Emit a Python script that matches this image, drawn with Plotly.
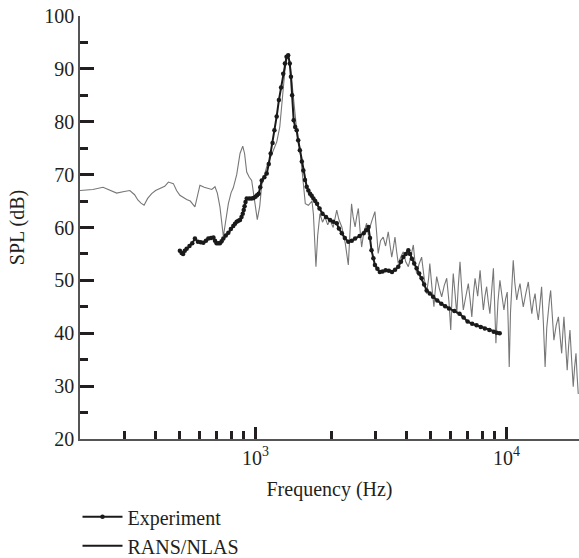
import plotly.graph_objects as go

# ---- RANS/NLAS computed spectrum (Hz, dB) ----
rans_freq = [
    200, 225, 247, 265, 280, 300, 316, 330, 340, 350,
    360, 372, 386, 400, 417, 435, 450, 471, 485, 500,
    532, 550, 574, 588, 601, 625, 649, 670, 690, 705,
    722, 735, 745, 760, 780, 800, 816, 842, 868, 890,
    905, 923, 945, 966, 996, 1017, 1040, 1059, 1109, 1161,
    1216, 1250, 1273, 1312, 1340, 1352, 1370, 1393, 1439, 1470,
    1503, 1530, 1552, 1580, 1625, 1680, 1702, 1742, 1770, 1807,
    1850, 1892, 1940, 1982, 2040, 2108, 2150, 2208, 2280, 2344,
    2380, 2415, 2450, 2495, 2530, 2570, 2610, 2649, 2700, 2773,
    2820, 2858, 2920, 2992, 3040, 3083, 3150, 3228, 3300, 3381,
    3440, 3491, 3540, 3597, 3650, 3707, 3800, 3882, 3970, 4065,
    4160, 4256, 4320, 4385, 4480, 4592, 4700, 4808, 4900, 4950,
    5040, 5140, 5200, 5272, 5400, 5521, 5650, 5781, 5900, 5998,
    6070, 6138, 6240, 6339, 6430, 6531, 6630, 6730, 6890, 7047,
    7160, 7278, 7390, 7499, 7680, 7852, 7970, 8091, 8210, 8337,
    8460, 8590, 8730, 8872, 8980, 9078, 9250, 9419, 9600, 9772,
    9920, 10069, 10160, 10257, 10380, 10495, 10570, 10641, 10800, 10990,
    11150, 11324, 11500, 11668, 11940, 12218, 12420, 12618, 12800, 13002,
    13200, 13397, 13600, 13804, 14030, 14256, 14470, 14689, 14850, 15000,
    15220, 15453, 15780, 16106, 16350, 16596, 16770, 16943, 17200, 17458,
    17680, 17906, 18180, 18450, 18680, 18923, 19120, 19320,
]
rans_spl = [
    67.0, 67.2, 67.6, 67.0, 66.5, 66.8, 67.0, 66.2, 65.2, 64.6,
    64.2, 65.5, 66.4, 67.0, 67.4, 67.8, 68.6, 68.3, 67.0, 66.1,
    65.3, 65.0, 63.9, 66.0, 68.0, 67.6, 67.4, 67.2, 67.7, 66.5,
    63.9, 60.0, 58.3, 61.0, 64.5, 66.6, 67.5, 70.0, 74.0, 75.4,
    74.0, 70.5, 69.5, 68.9, 64.5, 61.5, 64.0, 68.0, 71.5, 74.0,
    76.2, 79.0, 83.4, 90.0, 92.3, 92.6, 91.5, 88.0, 80.5, 77.0,
    75.0, 71.5, 68.5, 64.5, 64.2, 65.0, 62.5, 52.6, 58.5, 62.6,
    61.0, 62.0, 60.5, 61.4, 60.0, 63.3, 61.5, 60.1, 57.0, 52.9,
    59.0, 64.5, 62.0, 60.1, 62.0, 63.6, 59.5, 56.3, 59.0, 60.8,
    58.5, 60.1, 61.5, 63.0, 59.0, 55.1, 57.5, 58.2, 56.5, 59.2,
    56.5, 54.4, 56.0, 58.2, 55.5, 53.2, 54.5, 55.4, 53.5, 52.6,
    54.5, 56.7, 53.5, 51.3, 53.0, 54.4, 50.5, 47.5, 50.5, 53.2,
    49.0, 45.0, 48.0, 50.7, 48.5, 46.9, 49.0, 50.4, 46.0, 40.6,
    47.0, 51.3, 47.5, 43.7, 49.0, 53.5, 48.5, 44.4, 47.0, 49.4,
    46.5, 43.1, 47.5, 50.4, 47.0, 51.9, 48.0, 44.4, 47.0, 48.8,
    46.0, 43.7, 48.0, 52.3, 45.0, 38.1, 46.0, 50.0, 47.0, 44.4,
    46.5, 47.8, 42.0, 33.6, 44.0, 48.8, 51.5, 53.8, 49.5, 46.3,
    48.0, 49.4, 47.0, 45.0, 47.5, 49.7, 46.5, 43.7, 46.0, 47.5,
    44.5, 42.5, 45.5, 48.8, 42.0, 33.6, 41.0, 45.0, 46.5, 48.1,
    43.0, 38.7, 41.5, 43.1, 39.5, 36.2, 40.0, 43.1, 38.0, 33.0,
    37.5, 40.6, 35.0, 29.9, 33.5, 36.2, 32.0, 28.5,
]

# ---- Measured spectrum (Hz, dB) ----
exp_freq = [
    500, 508, 515, 523, 532, 546, 560, 574, 590, 605,
    620, 635, 649, 665, 680, 690, 700, 711, 722, 733,
    745, 762, 780, 798, 816, 829, 842, 855, 868, 880,
    890, 898, 905, 913, 923, 945, 966, 983, 1000, 1015,
    1030, 1045, 1059, 1085, 1109, 1130, 1150, 1170, 1190, 1215,
    1240, 1265, 1290, 1310, 1330, 1350, 1370, 1385, 1400, 1420,
    1440, 1460, 1480, 1503, 1530, 1552, 1575, 1600, 1625, 1650,
    1675, 1702, 1730, 1760, 1800, 1850, 1910, 1982, 2040, 2108,
    2150, 2208, 2270, 2344, 2420, 2495, 2600, 2700, 2760, 2820,
    2860, 2900, 2950, 2992, 3060, 3130, 3210, 3300, 3400, 3500,
    3600, 3707, 3800, 3882, 3970, 4065, 4130, 4200, 4290, 4385,
    4490, 4592, 4700, 4808, 4950, 5100, 5300, 5500, 5700, 5900,
    6200, 6500, 6750, 7000, 7300, 7600, 7900, 8200, 8550, 8900,
    9150, 9400,
]
exp_spl = [
    55.6, 55.2, 55.0, 55.6, 56.0, 56.5, 57.0, 57.9, 57.3, 57.2,
    57.1, 57.5, 57.9, 58.0, 58.1, 57.5, 57.0, 57.0, 57.0, 57.4,
    57.9, 58.5, 59.0, 59.7, 60.3, 60.7, 61.1, 61.3, 61.4, 62.0,
    62.6, 63.3, 64.0, 64.8, 65.5, 65.5, 65.5, 65.6, 65.8, 66.1,
    66.4, 67.6, 68.9, 69.5, 70.2, 72.0, 74.0, 76.0, 78.4, 81.0,
    84.1, 86.5, 89.1, 91.0, 92.3, 92.6, 91.0, 88.5, 85.0, 80.3,
    79.0, 78.4, 76.5, 74.6, 72.5, 70.8, 69.0, 67.7, 67.0, 66.4,
    66.0, 65.5, 65.0, 64.5, 63.6, 62.6, 62.0, 61.4, 61.1, 60.8,
    59.8, 58.9, 58.0, 57.3, 57.5, 57.9, 58.4, 58.9, 59.5, 60.1,
    58.0, 55.7, 54.2, 52.9, 52.2, 51.6, 51.7, 51.9, 51.8, 51.6,
    52.0, 52.6, 53.5, 54.4, 55.0, 55.7, 55.0, 54.1, 53.2, 52.3,
    51.3, 50.4, 49.2, 48.1, 47.5, 46.9, 46.2, 45.6, 45.1, 44.7,
    44.2, 43.7, 43.0, 42.2, 41.8, 41.5, 41.2, 40.9, 40.6, 40.3,
    40.1, 40.0,
]

x_major = [1000, 10000]
x_major_text = ["10<sup>3</sup>", "10<sup>4</sup>"]
x_minor = [300, 400, 500, 600, 700, 800, 900,
           2000, 3000, 4000, 5000, 6000, 7000, 8000, 9000]

INK = "#231f20"
FONT = dict(family="Liberation Serif", size=20, color=INK)

fig = go.Figure()

# computed spectrum drawn first, thin grey line
fig.add_trace(go.Scatter(
    x=rans_freq, y=rans_spl, mode="lines",
    line=dict(color="#777777", width=1.1),
    showlegend=False, hoverinfo="skip",
))

# measured spectrum on top, beaded black line
fig.add_trace(go.Scatter(
    x=exp_freq, y=exp_spl, mode="lines+markers",
    name="Experiment",
    line=dict(color="#1a1a1a", width=2),
    marker=dict(color="#1a1a1a", size=4.5, symbol="circle"),
    legendrank=1,
))

# legend key for the computed spectrum (black key line, single point draws nothing)
fig.add_trace(go.Scatter(
    x=rans_freq[:1], y=rans_spl[:1], mode="lines", name="RANS/NLAS",
    line=dict(color="#1a1a1a", width=2),
    hoverinfo="skip", legendrank=2,
))

fig.update_layout(
    width=579, height=558,
    margin=dict(l=80, r=0, t=16, b=119, autoexpand=False),
    paper_bgcolor="white", plot_bgcolor="white",
    font=FONT,
    showlegend=True,
    legend=dict(
        x=-0.005, y=-0.138, xanchor="left", yanchor="top",
        orientation="v", font=FONT, bgcolor="rgba(0,0,0,0)",
        borderwidth=0, tracegroupgap=0, itemwidth=40,
    ),
)

fig.update_xaxes(
    type="log", range=[2.30103, 4.289],
    showline=True, linecolor="#555555", linewidth=1.5,
    showgrid=False, zeroline=False,
    ticks="inside", ticklen=12, tickwidth=2.5, tickcolor=INK,
    tickmode="array", tickvals=x_major, ticktext=x_major_text,
    tickfont=FONT,
    minor=dict(ticks="inside", ticklen=8, tickwidth=2.5, tickcolor=INK,
               tickmode="array", tickvals=x_minor, showgrid=False),
    title=dict(text="Frequency (Hz)", font=FONT, standoff=14),
)

fig.update_yaxes(
    range=[20, 100],
    showline=True, linecolor="#555555", linewidth=1.5,
    showgrid=False, zeroline=False,
    ticks="inside", ticklen=14, tickwidth=3, tickcolor=INK,
    tickmode="linear", tick0=20, dtick=10,
    tickfont=FONT,
    minor=dict(ticks="inside", ticklen=8, tickwidth=3, tickcolor=INK,
               tickmode="linear", tick0=25, dtick=10, showgrid=False),
    title=dict(text="SPL (dB)", font=FONT, standoff=14),
)

fig.write_html("out.html")
